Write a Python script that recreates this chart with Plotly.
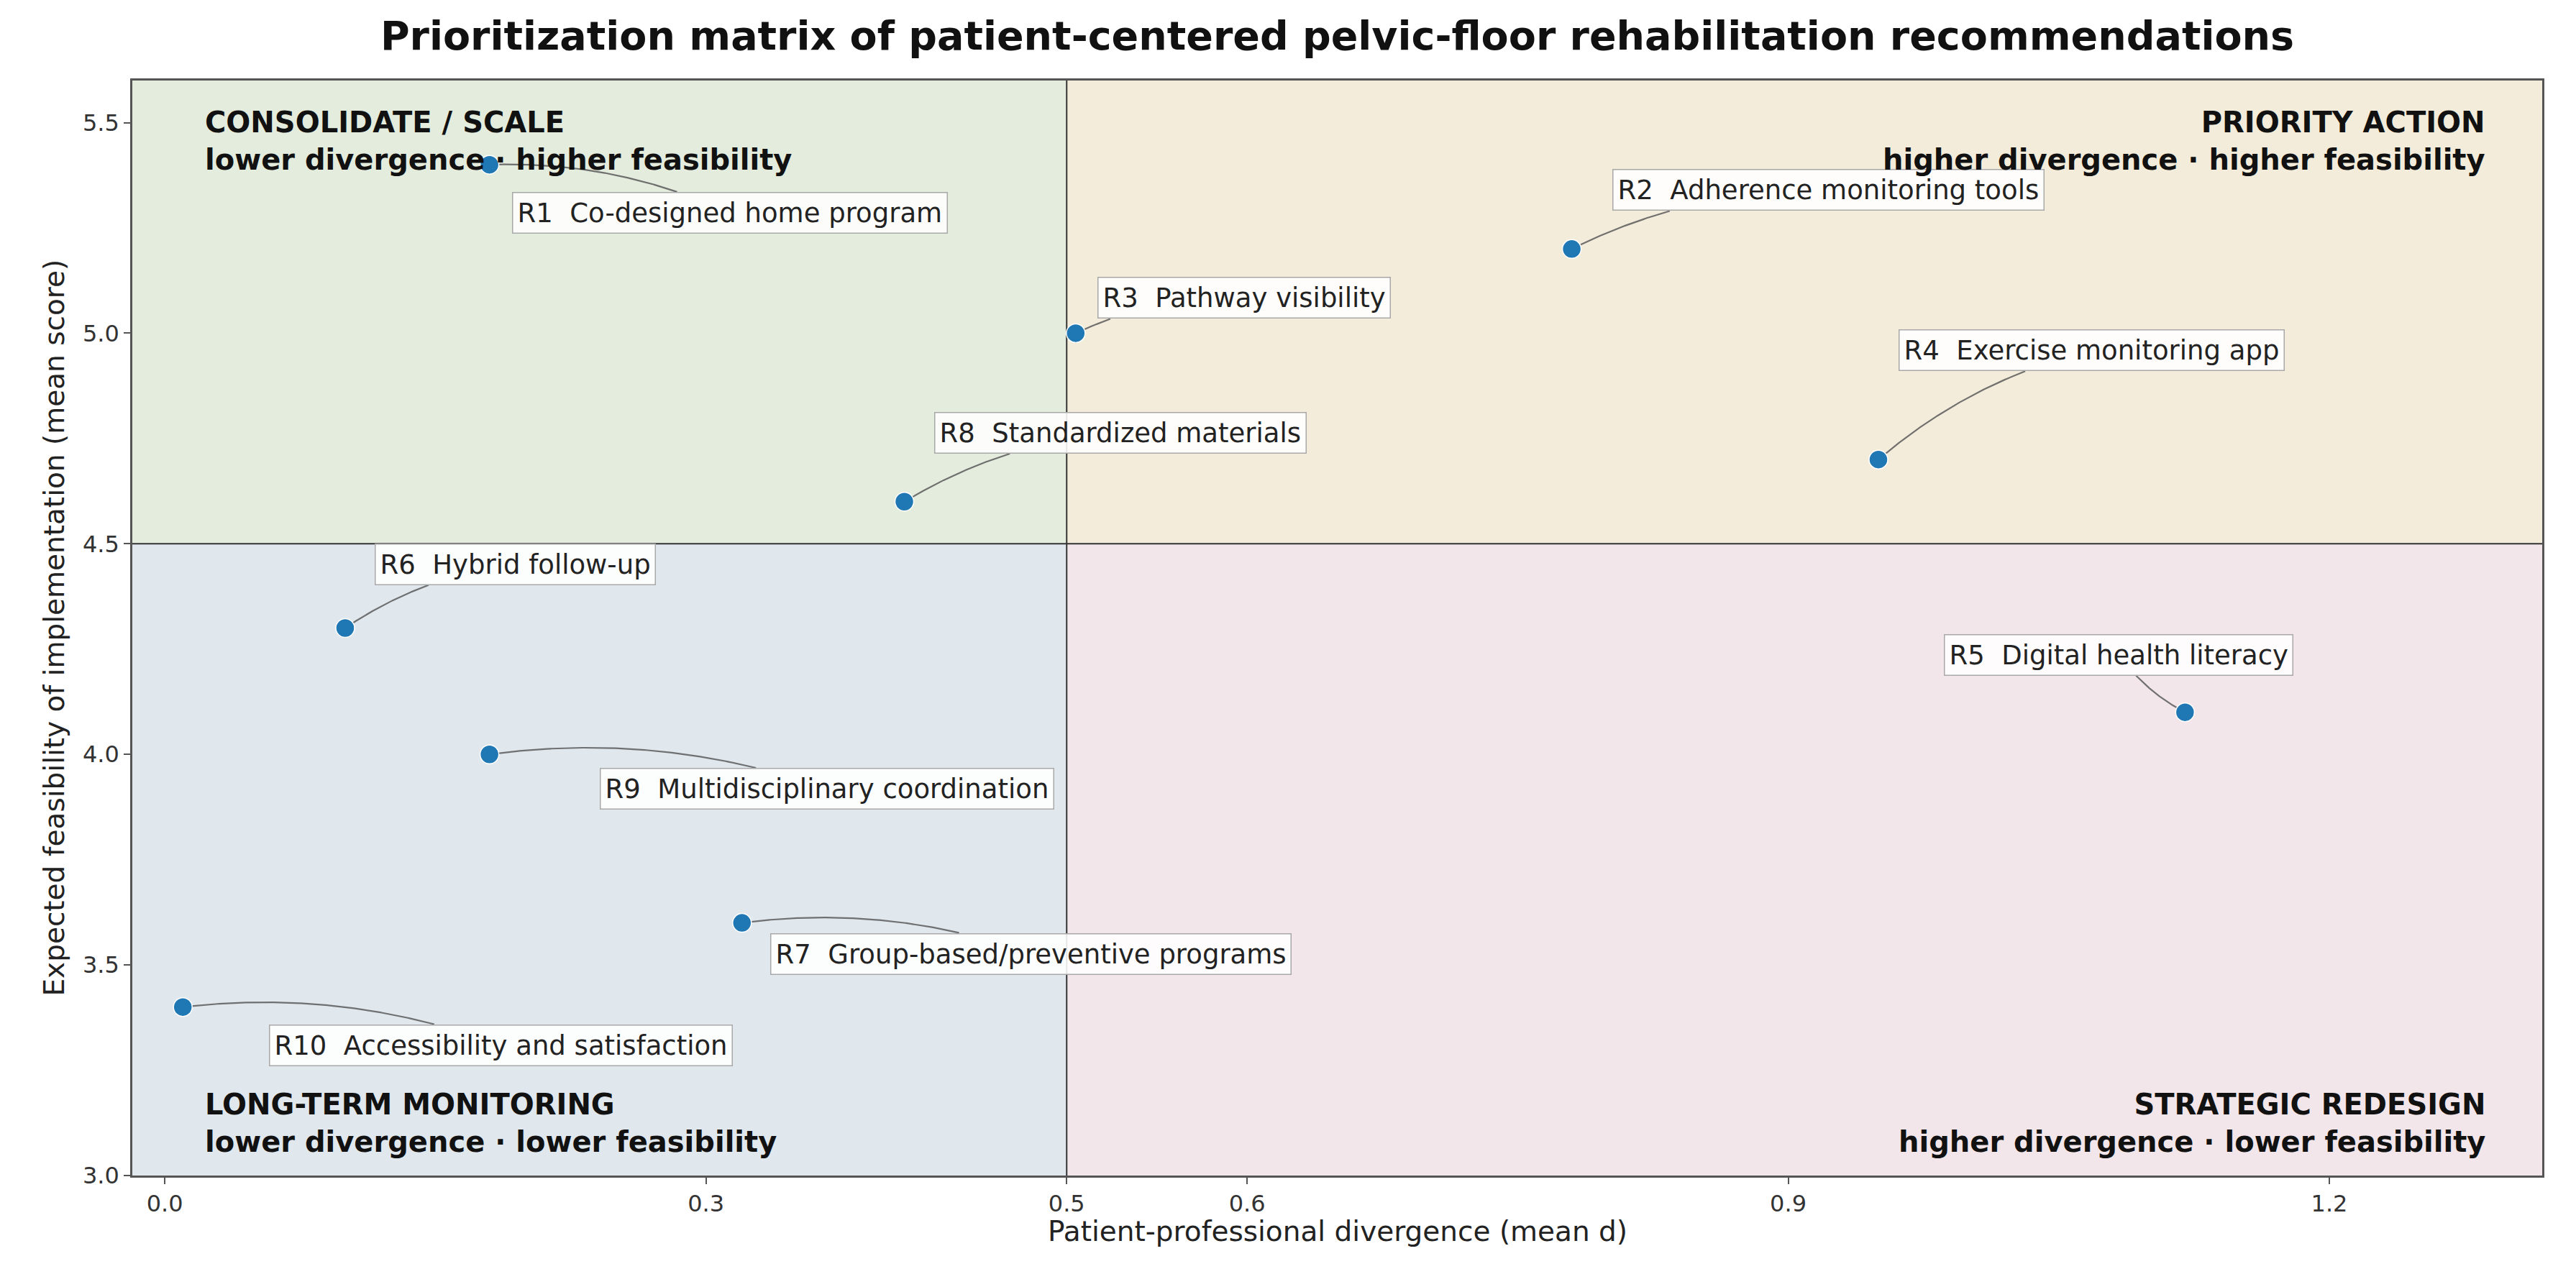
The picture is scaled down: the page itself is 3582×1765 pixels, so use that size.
import numpy as np
import plotly.graph_objects as go

# ---------------- data ----------------
codes = ["R1", "R2", "R3", "R4", "R5", "R6", "R7", "R8", "R9", "R10"]
names = [
    "Co-designed home program",
    "Adherence monitoring tools",
    "Pathway visibility",
    "Exercise monitoring app",
    "Digital health literacy",
    "Hybrid follow-up",
    "Group-based/preventive programs",
    "Standardized materials",
    "Multidisciplinary coordination",
    "Accessibility and satisfaction",
]
divergence = [0.18, 0.78, 0.505, 0.95, 1.12, 0.10, 0.32, 0.41, 0.18, 0.01]
feasibility = [5.4, 5.2, 5.0, 4.7, 4.1, 4.3, 3.6, 4.6, 4.0, 3.4]

x_tick_vals = [0.0, 0.3, 0.5, 0.6, 0.9, 1.2]
x_tick_text = ["0.0", "0.3", "0.5", "0.6", "0.9", "1.2"]
y_tick_vals = [3.0, 3.5, 4.0, 4.5, 5.0, 5.5]
y_tick_text = ["3.0", "3.5", "4.0", "4.5", "5.0", "5.5"]

x_split = 0.5
y_split = 4.5

quadrant_titles = ["CONSOLIDATE / SCALE", "PRIORITY ACTION", "LONG-TERM MONITORING", "STRATEGIC REDESIGN"]
quadrant_subtitles = [
    "lower divergence · higher feasibility",
    "higher divergence · higher feasibility",
    "lower divergence · lower feasibility",
    "higher divergence · lower feasibility",
]

title_text = "Prioritization matrix of patient-centered pelvic-floor rehabilitation recommendations"
x_title = "Patient-professional divergence (mean d)"
y_title = "Expected feasibility of implementation (mean score)"

# ---------------- layout / style ----------------
W, H = 3582, 1765
M = dict(l=184, r=47, t=112, b=130)
X_RANGE = [-0.018, 1.318]
Y_RANGE = [3.0, 5.6]
PW = W - M["l"] - M["r"]
PH = H - M["t"] - M["b"]

# label box centre offsets from each point, in screen pixels (dx right, dy down)
label_offsets = [(334, 67), (357, -82), (234, -49), (297, -152), (-92, -80),
                 (237, -89), (402, 43), (300, -96), (469, 48), (442, 53)]
LABEL_FONT = 37
LABEL_HALF_H = 29
RAD = 0.12

quad_colors = {"TL": "#e3ecdd", "TR": "#f3ecda", "BL": "#e0e8ee", "BR": "#f2e6ea"}
FONT = "DejaVu Sans"


def to_px(x, y):
    px = M["l"] + (x - X_RANGE[0]) / (X_RANGE[1] - X_RANGE[0]) * PW
    py = M["t"] + (Y_RANGE[1] - y) / (Y_RANGE[1] - Y_RANGE[0]) * PH
    return px, py


def to_data(px, py):
    x = X_RANGE[0] + (px - M["l"]) / PW * (X_RANGE[1] - X_RANGE[0])
    y = Y_RANGE[1] - (py - M["t"]) / PH * (Y_RANGE[1] - Y_RANGE[0])
    return x, y


fig = go.Figure()

# quadrant backgrounds and dividers
shapes = [
    dict(type="rect", xref="x", yref="y", x0=X_RANGE[0], x1=x_split, y0=y_split, y1=Y_RANGE[1],
         fillcolor=quad_colors["TL"], line=dict(width=0), layer="below"),
    dict(type="rect", xref="x", yref="y", x0=x_split, x1=X_RANGE[1], y0=y_split, y1=Y_RANGE[1],
         fillcolor=quad_colors["TR"], line=dict(width=0), layer="below"),
    dict(type="rect", xref="x", yref="y", x0=X_RANGE[0], x1=x_split, y0=Y_RANGE[0], y1=y_split,
         fillcolor=quad_colors["BL"], line=dict(width=0), layer="below"),
    dict(type="rect", xref="x", yref="y", x0=x_split, x1=X_RANGE[1], y0=Y_RANGE[0], y1=y_split,
         fillcolor=quad_colors["BR"], line=dict(width=0), layer="below"),
    dict(type="line", xref="x", yref="y", x0=x_split, x1=x_split, y0=Y_RANGE[0], y1=Y_RANGE[1],
         line=dict(color="#333333", width=2), layer="below"),
    dict(type="line", xref="x", yref="y", x0=X_RANGE[0], x1=X_RANGE[1], y0=y_split, y1=y_split,
         line=dict(color="#333333", width=2), layer="below"),
]

# curved connectors (arc3-like quadratic Bezier, computed in pixel space)
annotations = []
for i, (code, name, xv, yv) in enumerate(zip(codes, names, divergence, feasibility)):
    text = f"{code}\u00a0\u00a0{name}"
    dx, dy = label_offsets[i]
    bx, by = to_px(xv, yv)
    ax_, ay_ = bx + dx, by + dy
    ddx, ddy = bx - ax_, by - ay_
    mx, my = (ax_ + bx) / 2, (ay_ + by) / 2
    cx, cy = mx - RAD * ddy, my + RAD * ddx
    t = np.linspace(0, 1, 300)
    px = (1 - t) ** 2 * ax_ + 2 * t * (1 - t) * cx + t ** 2 * bx
    py = (1 - t) ** 2 * ay_ + 2 * t * (1 - t) * cy + t ** 2 * by
    half_w = 0.29 * LABEL_FONT * len(text)
    outside = (np.abs(px - ax_) > half_w) | (np.abs(py - ay_) > LABEL_HALF_H)
    idx = np.argmax(outside)
    px, py = px[idx:], py[idx:]
    xs, ys = to_data(px, py)
    fig.add_trace(go.Scatter(x=xs, y=ys, mode="lines",
                             line=dict(color="rgba(90,90,90,0.85)", width=2.2),
                             hoverinfo="skip", showlegend=False))
    annotations.append(dict(
        x=xv, y=yv, xref="x", yref="y", text=text, showarrow=False,
        xshift=dx, yshift=-dy, xanchor="center", yanchor="middle",
        font=dict(family=FONT, size=LABEL_FONT, color="#222222"),
        bgcolor="rgba(255,255,255,0.88)", bordercolor="#a8a8a8", borderwidth=1.5, borderpad=6,
    ))

# points
fig.add_trace(go.Scatter(
    x=divergence, y=feasibility, mode="markers",
    marker=dict(size=26, color="#1f77b4", line=dict(color="white", width=1.5)),
    text=[f"{c} {n}" for c, n in zip(codes, names)], hoverinfo="text", showlegend=False,
))

# quadrant labels
q_pos = [(0.0295, 0.945, "left"), (0.977, 0.945, "right"), (0.0295, 0.048, "left"), (0.977, 0.048, "right")]
for (qx, qy, al), t1, t2 in zip(q_pos, quadrant_titles, quadrant_subtitles):
    annotations.append(dict(
        x=qx, y=qy, xref="paper", yref="paper", text=f"<b>{t1}</b><br><b>{t2}</b>",
        showarrow=False, xanchor=al, yanchor="middle", align=al,
        font=dict(family=FONT, size=40, color="#111111"),
    ))

# axis titles
annotations.append(dict(x=0.5, y=-0.051, xref="paper", yref="paper", text=x_title, showarrow=False,
                        xanchor="center", yanchor="middle", font=dict(family=FONT, size=39, color="#222222")))
annotations.append(dict(x=-0.0325, y=0.5, xref="paper", yref="paper", text=y_title, showarrow=False,
                        textangle=-90, xanchor="center", yanchor="middle",
                        font=dict(family=FONT, size=39, color="#222222")))

axis_common = dict(showgrid=False, zeroline=False, showline=True, mirror=True, linecolor="#555555",
                   linewidth=2.5, ticks="outside", ticklen=9, tickwidth=2, tickcolor="#555555",
                   tickfont=dict(family=FONT, size=32, color="#333333"))

fig.update_layout(
    width=W, height=H, margin=M,
    paper_bgcolor="white", plot_bgcolor="white",
    title=dict(text=f"<b>{title_text}</b>", x=0.5, xref="paper", y=1 - 50 / H, yref="container",
               xanchor="center", yanchor="middle", font=dict(family=FONT, size=55.5, color="#111111")),
    xaxis=dict(range=X_RANGE, tickvals=x_tick_vals, ticktext=x_tick_text, **axis_common),
    yaxis=dict(range=Y_RANGE, tickvals=y_tick_vals, ticktext=y_tick_text, **axis_common),
    shapes=shapes, annotations=annotations, showlegend=False,
    font=dict(family=FONT),
)

fig.write_html("out.html")
